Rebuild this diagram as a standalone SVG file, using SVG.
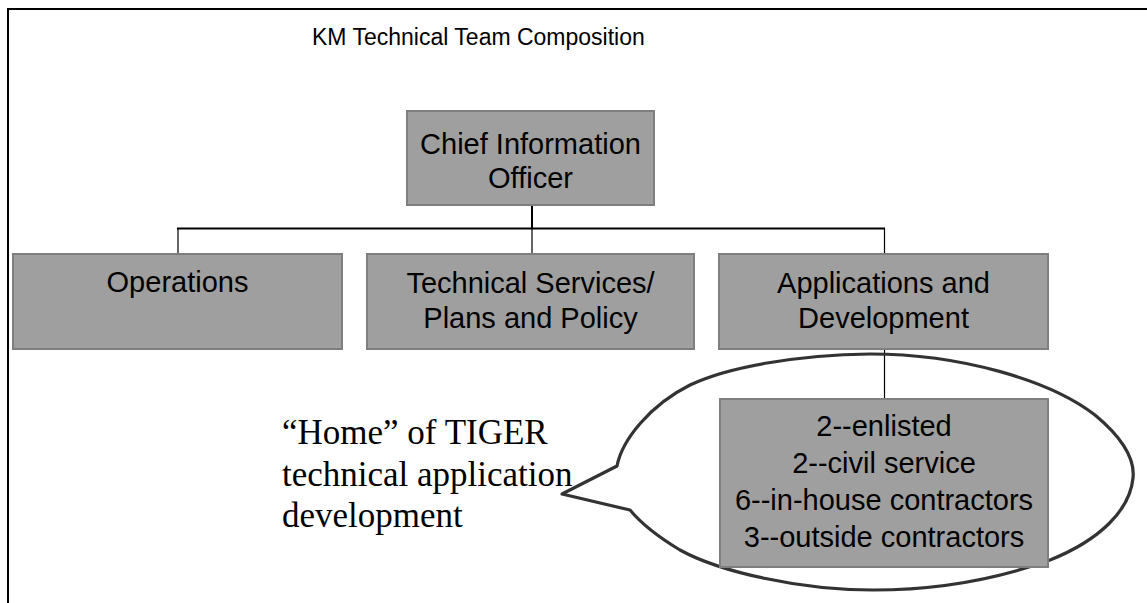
<svg xmlns="http://www.w3.org/2000/svg" width="1147" height="603" viewBox="0 0 1147 603">
<style>
.box{fill:#9f9f9f;stroke:#7f7f7f;stroke-width:2}
.t{font-family:"Liberation Sans",Arial,sans-serif;font-size:29px;fill:#000;text-anchor:middle}
.thick{stroke:#000;stroke-width:2;fill:none}
.thin{stroke:#000;stroke-width:1.2;fill:none}
.serif{font-family:"Liberation Serif","Times New Roman",serif;font-size:35px;fill:#000}
</style>
<rect width="1147" height="603" fill="#fff"/>
<g id="frame">
<path d="M7,9 H1147 M8,8 V603" stroke="#000" stroke-width="2" fill="none"/>
</g>
<text id="title" x="312" y="45" style="font-family:'Liberation Sans',Arial,sans-serif;font-size:23px;fill:#000">KM Technical Team Composition</text>
<g id="connectors">
<path class="thick" d="M532,205 V228.5 M177,228.5 H885"/>
<path class="thin" d="M178,228.5 V254 M532,228.5 V254 M884.5,228.5 V254 M884.5,349 V399"/>
</g>
<g id="balloon">
<path d="M617,466 C622,440 650,405 690,385 C730,366 800,355 870,354 C960,354 1050,380 1095,415 C1125,440 1135,460 1133,478 C1130,510 1100,540 1050,560 C1000,578 940,590 873,590 C800,590 720,572 680,550 C655,535 640,522 630,510 L562,494 Z" fill="none" stroke="#333" stroke-width="3.2" stroke-linejoin="round"/>
</g>
<g id="cio">
<rect class="box" x="407" y="111" width="247" height="94"/>
<text class="t" x="530.5" y="154">Chief Information</text>
<text class="t" x="530.5" y="188">Officer</text>
</g>
<g id="operations">
<rect class="box" x="13" y="254" width="329" height="95"/>
<text class="t" x="177.5" y="292">Operations</text>
</g>
<g id="techservices">
<rect class="box" x="367" y="254" width="327" height="95"/>
<text class="t" x="530.5" y="293">Technical Services/</text>
<text class="t" x="530.5" y="328">Plans and Policy</text>
</g>
<g id="applications">
<rect class="box" x="719" y="254" width="329" height="95"/>
<text class="t" x="883.5" y="293">Applications and</text>
<text class="t" x="883.5" y="328">Development</text>
</g>
<g id="staff">
<rect class="box" x="720" y="399" width="328" height="168"/>
<text class="t" x="884" y="436">2--enlisted</text>
<text class="t" x="884" y="473">2--civil service</text>
<text class="t" x="884" y="510">6--in-house contractors</text>
<text class="t" x="884" y="547">3--outside contractors</text>
</g>
<g id="callout">
<text class="serif" x="282" y="444">“Home” of TIGER</text>
<text class="serif" x="282" y="486">technical application</text>
<text class="serif" x="282" y="527">development</text>
</g>
</svg>
